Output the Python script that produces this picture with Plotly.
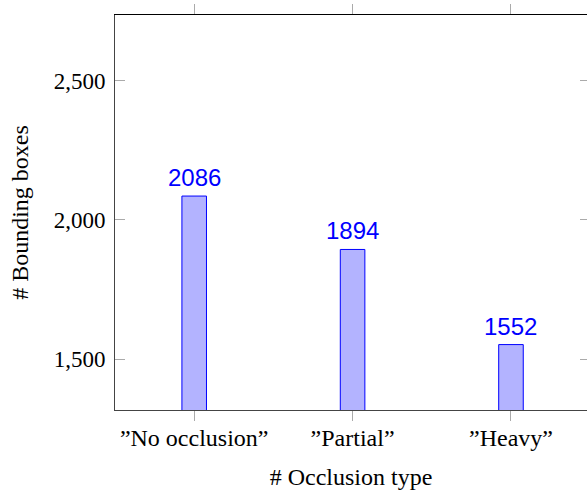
import plotly.graph_objects as go

categories = ["\u201dNo occlusion\u201d", "\u201dPartial\u201d", "\u201dHeavy\u201d"]
values = [2086, 1894, 1552]
y_ticks = [1500, 2000, 2500]
y_range = [1316.8, 2737]
x_title = "# Occlusion type"
y_title = "# Bounding boxes"

serif = "Liberation Serif"
sans = "Liberation Sans"
idx = list(range(len(categories)))
x_range = [-0.5, len(categories) - 0.52]

fig = go.Figure()
fig.add_trace(go.Bar(
    x=idx, y=values, width=0.155,
    marker=dict(color="#b3b3ff", line=dict(color="#0000ff", width=1)),
    showlegend=False, hoverinfo="skip",
))
# invisible copy so the mirrored (top / right) axes get drawn
fig.add_trace(go.Bar(
    x=idx, y=values, width=0.155, xaxis="x2", yaxis="y2", opacity=0,
    showlegend=False, hoverinfo="skip",
))
for i, v in zip(idx, values):
    fig.add_annotation(x=i, y=v, text=str(v), showarrow=False, yanchor="bottom",
                       yshift=3, font=dict(family=sans, size=24, color="#0000ff"))

fig.update_layout(
    width=587, height=493,
    margin=dict(l=115, r=0, t=15, b=83),
    paper_bgcolor="white", plot_bgcolor="white",
    xaxis=dict(range=x_range, tickvals=idx, ticktext=categories, automargin=False,
               showline=True, linecolor="#444", linewidth=1,
               ticks="outside", ticklen=10, tickcolor="#aaa", tickwidth=1,
               ticklabelstandoff=-4,
               showgrid=False, zeroline=False,
               tickfont=dict(family=serif, size=24, color="black"),
               title=dict(text=x_title, font=dict(family=serif, size=24, color="black"), standoff=18)),
    xaxis2=dict(range=x_range, tickvals=idx, overlaying="x", anchor="y", side="top",
                automargin=False,
                showline=True, linecolor="black", linewidth=1,
                ticks="outside", ticklen=10, tickcolor="#aaa", tickwidth=1,
                showticklabels=False, showgrid=False, zeroline=False),
    yaxis=dict(range=y_range, tickvals=y_ticks, tickformat=",", automargin=False,
               showline=True, linecolor="#444", linewidth=1,
               ticks="inside", ticklen=10, tickcolor="#aaa", tickwidth=1,
               ticklabelstandoff=4,
               showgrid=False, zeroline=False,
               tickfont=dict(family=serif, size=23, color="black"),
               title=dict(text=y_title, font=dict(family=serif, size=24, color="black"), standoff=18)),
    yaxis2=dict(range=y_range, tickvals=y_ticks, overlaying="y", anchor="x", side="right",
                automargin=False,
                showline=False, ticks="inside", ticklen=7, tickcolor="#aaa", tickwidth=1,
                showticklabels=False, showgrid=False, zeroline=False),
)
fig.write_html(
    "out.html",
    config={"displayModeBar": False},
    post_script="document.body.style.margin='0';document.body.style.overflow='hidden';",
)
